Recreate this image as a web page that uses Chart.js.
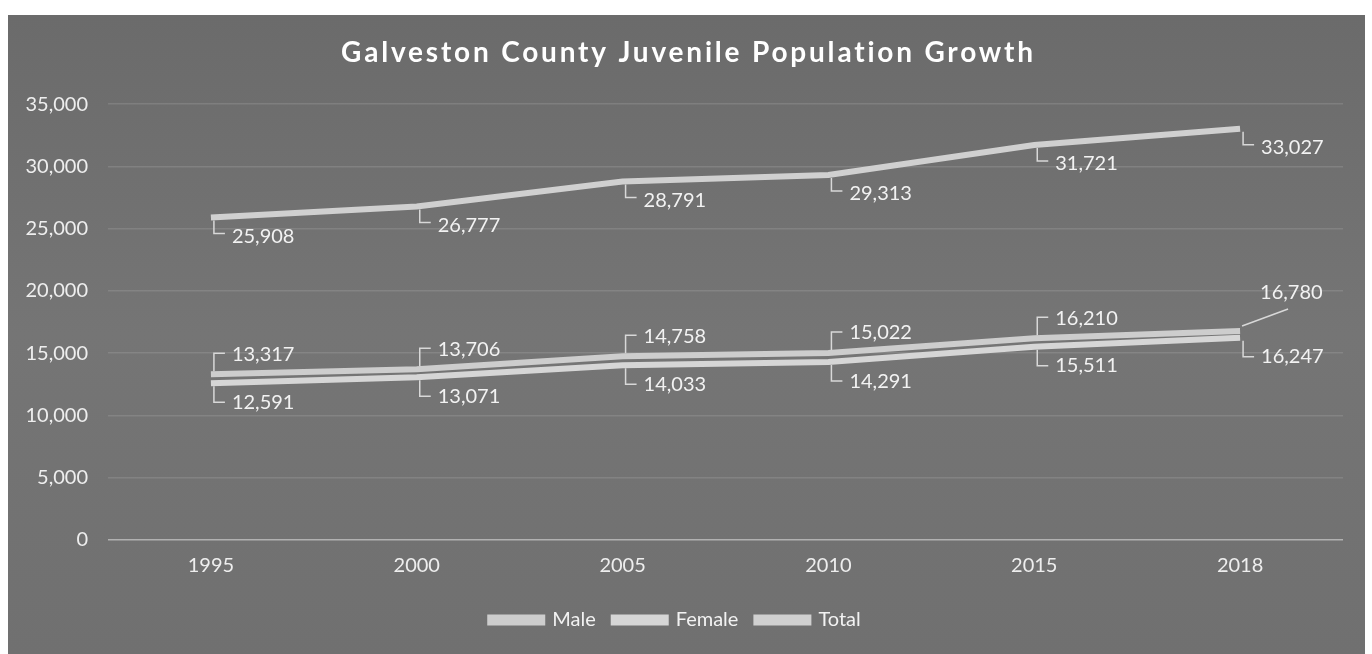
<!DOCTYPE html>
<html><head><meta charset="utf-8">
<script src="https://cdn.jsdelivr.net/npm/chart.js@4.4.1/dist/chart.umd.min.js"></script>
<style>
html,body{margin:0;padding:0;background:#fff;}
#wrap{position:absolute;left:8px;top:15px;width:1357px;height:639px;}
</style></head>
<body><div id="wrap"><canvas id="c" width="1357" height="639"></canvas></div>
<script>
const title = "Galveston County Juvenile Population Growth";
const years = ["1995","2000","2005","2010","2015","2018"];
const male = [13317, 13706, 14758, 15022, 16210, 16780];
const female = [12591, 13071, 14033, 14291, 15511, 16247];
const total = [25908, 26777, 28791, 29313, 31721, 33027];
const seriesNames = ["Male","Female","Total"];

const FONT = "Lato";
const fmt = v => v.toLocaleString('en-US');

const bgPlugin = {
  id:'bg',
  beforeDraw(chart){
    const {ctx,width,height} = chart;
    ctx.save();
    const g = ctx.createLinearGradient(0,0,0,height);
    g.addColorStop(0,'#6b6b6b');
    g.addColorStop(0.5,'#757575');
    g.addColorStop(1,'#707070');
    ctx.fillStyle = g;
    ctx.fillRect(0,0,width,height);
    ctx.restore();
  },
  afterDraw(chart){
    const {ctx} = chart;
    ctx.save();
    ctx.font = "bold 28px " + FONT;
    ctx.letterSpacing = "2.8px";
    ctx.fillStyle = "#ffffff";
    ctx.textAlign = "center";
    ctx.textBaseline = "middle";
    ctx.fillText(title, chart.width/2 + 2, 38);
    ctx.restore();
  }
};

const labelPlugin = {
  id:'dlabels',
  afterDatasetsDraw(chart){
    const {ctx} = chart;
    ctx.save();
    ctx.font = "20px " + FONT;
    ctx.fillStyle = "#f2f2f2";
    ctx.strokeStyle = "#d8d8d8";
    ctx.lineWidth = 1.5;
    ctx.textBaseline = "middle";
    ctx.textAlign = "left";
    chart.data.datasets.forEach((ds, di) => {
      const meta = chart.getDatasetMeta(di);
      meta.data.forEach((pt, i) => {
        const x = pt.x, y = pt.y;
        const txt = fmt(ds.data[i]);
        ctx.beginPath();
        if (di === 0) { // male: above
          if (i === ds.data.length - 1) {
            ctx.moveTo(x+2, y-5);
            ctx.lineTo(x+48, y-22);
            ctx.stroke();
            ctx.fillText(txt, x+20, y-39);
          } else {
            ctx.moveTo(x+14, y-21);
            ctx.lineTo(x+3, y-21);
            ctx.lineTo(x+3, y-3);
            ctx.stroke();
            ctx.fillText(txt, x+21, y-20);
          }
        } else if (di === 1) { // female: below
          ctx.moveTo(x+3, y+3);
          ctx.lineTo(x+3, y+19);
          ctx.lineTo(x+14, y+19);
          ctx.stroke();
          ctx.fillText(txt, x+21, y+19);
        } else { // total: below
          ctx.moveTo(x+3, y+3);
          ctx.lineTo(x+3, y+16);
          ctx.lineTo(x+14, y+16);
          ctx.stroke();
          ctx.fillText(txt, x+21, y+19);
        }
      });
    });
    ctx.restore();
  }
};

const mk = (label, data, color) => ({
  label, data, borderColor: color, backgroundColor: color,
  borderWidth: 6, pointRadius: 0, tension: 0, fill:false
});

new Chart(document.getElementById('c'), {
  type:'line',
  data:{
    labels: years,
    datasets:[
      mk(seriesNames[0], male, '#cdcdcd'),
      mk(seriesNames[1], female, '#d6d6d6'),
      mk(seriesNames[2], total, '#d0d0d0')
    ]
  },
  options:{
    responsive:false, animation:false,
    layout:{padding:{top:0,right:22,bottom:14,left:0}},
    plugins:{
      title:{display:true, text:' ', font:{family:FONT,size:26,weight:'bold'}, padding:{top:21,bottom:37}},
      legend:{
        position:'bottom',
        labels:{font:{family:FONT,size:20}, color:'#f2f2f2', boxWidth:52, boxHeight:5, padding:18}
      },
      tooltip:{enabled:false}
    },
    scales:{
      x:{
        offset:true,
        grid:{display:false, drawTicks:false},
        border:{display:false},
        ticks:{font:{family:FONT,size:20}, color:'#eeeeee', padding:14}
      },
      y:{
        min:0, max:35000,
        ticks:{stepSize:5000, font:{family:FONT,size:20}, color:'#eeeeee', padding:20,
          callback:v => fmt(v)},
        grid:{drawTicks:false, color:(c)=> c.tick && c.tick.value===0 ? 'rgba(230,230,230,0.55)' : 'rgba(220,220,220,0.16)', lineWidth:1.5},
        border:{display:false},
        afterFit(s){ s.width = 100; }
      }
    }
  },
  plugins:[bgPlugin, labelPlugin]
});
</script>
</body></html>
